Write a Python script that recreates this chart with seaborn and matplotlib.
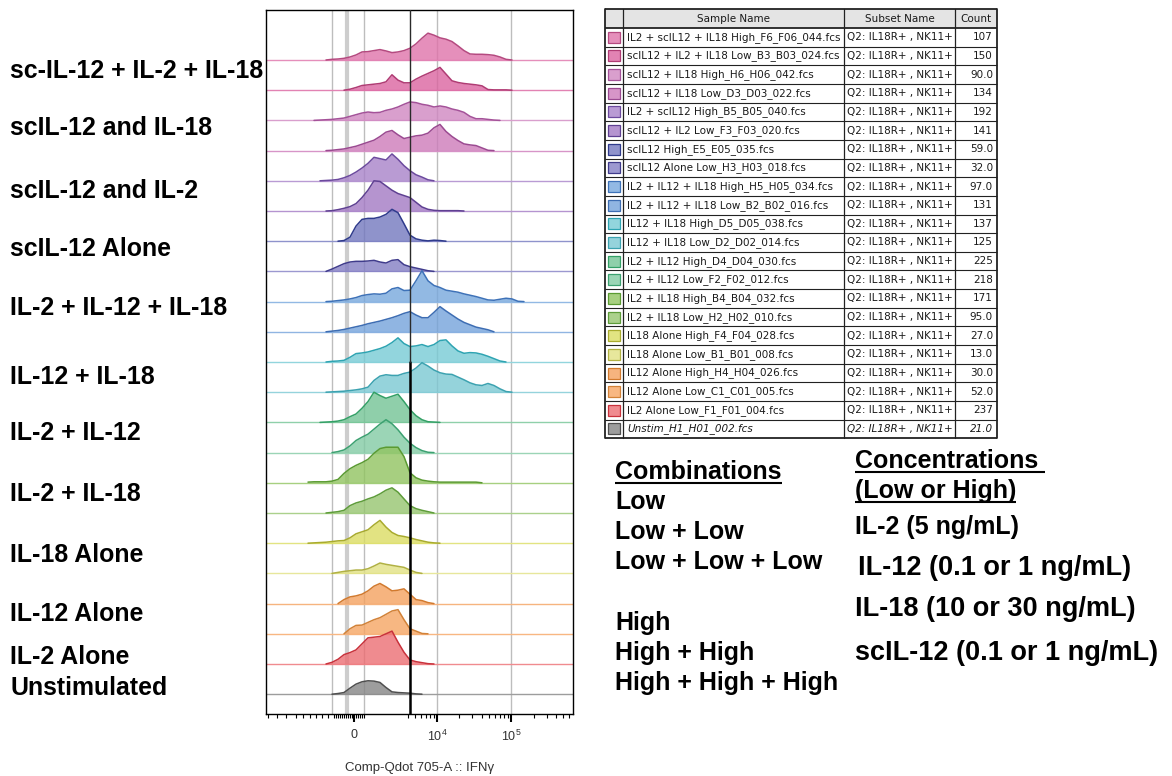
import numpy as np
import pandas as pd
import matplotlib
matplotlib.use("Agg")
import matplotlib.pyplot as plt
import seaborn as sns
from matplotlib.patches import Rectangle
from matplotlib.transforms import Bbox, TransformedBbox
from matplotlib.colors import to_rgb

sns.set_theme(style="white")
plt.rcParams["font.family"] = ["Liberation Sans", "DejaVu Sans"]
plt.rcParams["mathtext.fontset"] = "custom"
plt.rcParams["mathtext.rm"] = "Liberation Sans"
plt.rcParams["mathtext.it"] = "Liberation Sans:italic"
plt.rcParams["mathtext.bf"] = "Liberation Sans:bold"

# ---------------------------------------------------------------- samples
SAMPLES = [
    "IL2 + scIL12 + IL18 High_F6_F06_044.fcs",
    "scIL12 + IL2 + IL18 Low_B3_B03_024.fcs",
    "scIL12 + IL18 High_H6_H06_042.fcs",
    "scIL12 + IL18 Low_D3_D03_022.fcs",
    "IL2 + scIL12 High_B5_B05_040.fcs",
    "scIL12 + IL2 Low_F3_F03_020.fcs",
    "scIL12 High_E5_E05_035.fcs",
    "scIL12 Alone Low_H3_H03_018.fcs",
    "IL2 + IL12 + IL18 High_H5_H05_034.fcs",
    "IL2 + IL12 + IL18 Low_B2_B02_016.fcs",
    "IL12 + IL18 High_D5_D05_038.fcs",
    "IL12 + IL18 Low_D2_D02_014.fcs",
    "IL2 + IL12 High_D4_D04_030.fcs",
    "IL2 + IL12 Low_F2_F02_012.fcs",
    "IL2 + IL18 High_B4_B04_032.fcs",
    "IL2 + IL18 Low_H2_H02_010.fcs",
    "IL18 Alone High_F4_F04_028.fcs",
    "IL18 Alone Low_B1_B01_008.fcs",
    "IL12 Alone High_H4_H04_026.fcs",
    "IL12 Alone Low_C1_C01_005.fcs",
    "IL2 Alone Low_F1_F01_004.fcs",
    "Unstim_H1_H01_002.fcs",
]
SUBSET = "Q2: IL18R+ , NK11+"
COUNTS = ["107", "150", "90.0", "134", "192", "141", "59.0", "32.0", "97.0", "131",
          "137", "125", "225", "218", "171", "95.0", "27.0", "13.0", "30.0", "52.0",
          "237", "21.0"]

FILL_COLORS = ["#e58fbb", "#e283b3", "#d99fcd", "#d795c8", "#b99bd4", "#b594d0",
               "#8f93cc", "#9c98d0", "#92b9e4", "#90b5e2", "#92d5dd", "#95d3dc",
               "#8fd0aa", "#9bd5b6", "#a7d080", "#abd18c", "#e2e482", "#e7e79c",
               "#f6b47f", "#f8b782", "#f08b8f", "#9d9d9d"]
EDGE_COLORS = ["#b54a80", "#b03c74", "#a45299", "#9b4a91", "#6c4a9e", "#5f4092",
               "#2f3b8c", "#403c8c", "#3e72b8", "#3d6db3", "#2ea4b2", "#3ca2b0",
               "#33a066", "#3ca171", "#5b9b32", "#5e9c3a", "#a9ab2e", "#b1b143",
               "#d27a2e", "#d28238", "#c9323c", "#4f4f4f"]

GROUP_LABELS = ["sc-IL-12 + IL-2 + IL-18", "scIL-12 and IL-18", "scIL-12 and IL-2",
                "scIL-12 Alone", "IL-2 + IL-12 + IL-18", "IL-12 + IL-18", "IL-2 + IL-12",
                "IL-2 + IL-18", "IL-18 Alone", "IL-12 Alone", "IL-2 Alone", "Unstimulated"]
GROUP_LABEL_BASELINES = [78, 135, 198, 256, 315, 384, 440, 501, 562, 621, 664, 695]

COMBINATIONS = ["Low", "Low + Low", "Low + Low + Low", "", "High", "High + High",
                "High + High + High"]
CONCENTRATIONS = ["IL-2 (5 ng/mL)", "IL-12 (0.1 or 1 ng/mL)", "IL-18 (10 or 30 ng/mL)",
                  "scIL-12 (0.1 or 1 ng/mL)"]

# events per display bin, 38 bins along the biexponential axis
H01 = [0, 0, 0, 0, 2, 3, 5, 9, 15, 24, 25, 28, 31, 27, 22, 24, 28, 35, 48, 65, 80, 74, 66, 62, 55, 42, 28, 18, 17, 17, 16, 14, 9, 2, 0, 0, 0, 0]
H02 = [0, 0, 0, 0, 0, 0, 0, 3, 8, 14, 16, 18, 20, 25, 46, 30, 22, 22, 33, 42, 50, 58, 68, 48, 28, 23, 20, 18, 16, 13, 2, 1, 1, 1, 0, 0, 0, 0]
H03 = [0, 0, 1, 2, 3, 5, 7, 12, 17, 22, 25, 23, 24, 30, 34, 40, 48, 55, 53, 48, 45, 40, 43, 40, 34, 30, 24, 12, 5, 5, 3, 1, 0, 0, 0, 0, 0, 0]
H04 = [0, 0, 0, 0, 1, 3, 5, 9, 13, 19, 25, 31, 42, 55, 60, 47, 36, 40, 44, 46, 52, 68, 78, 57, 42, 30, 20, 17, 15, 8, 1, 0, 0, 0, 0, 0, 0, 0]
H05 = [0, 0, 0, 1, 2, 4, 9, 16, 26, 38, 52, 70, 66, 62, 80, 64, 45, 30, 18, 11, 3, 0, 0, 0, 0, 0, 0, 0, 0, 0, 0, 0, 0, 0, 0, 0, 0, 0]
H06 = [0, 0, 0, 0, 1, 4, 8, 13, 22, 40, 62, 90, 88, 75, 62, 52, 46, 40, 26, 12, 5, 2, 1, 1, 1, 1, 0, 0, 0, 0, 0, 0, 0, 0, 0, 0, 0, 0]
H07 = [0, 0, 0, 0, 0, 0, 2, 12, 45, 65, 68, 68, 72, 80, 95, 85, 52, 18, 7, 3, 1, 3, 2, 0, 0, 0, 0, 0, 0, 0, 0, 0, 0, 0, 0, 0, 0, 0]
H08 = [0, 0, 0, 0, 7, 15, 23, 28, 30, 30, 31, 33, 28, 25, 33, 35, 20, 14, 10, 6, 2, 0, 0, 0, 0, 0, 0, 0, 0, 0, 0, 0, 0, 0, 0, 0, 0, 0]
H09 = [0, 0, 0, 0, 1, 3, 5, 8, 12, 18, 21, 23, 22, 25, 38, 42, 33, 34, 62, 92, 62, 48, 42, 34, 31, 28, 23, 19, 15, 10, 5, 4, 7, 10, 8, 1, 0, 0]
H10 = [0, 0, 0, 0, 2, 4, 7, 11, 15, 19, 24, 28, 32, 37, 42, 48, 55, 60, 50, 42, 42, 58, 75, 62, 50, 38, 28, 21, 14, 10, 6, 0, 0, 0, 0, 0, 0, 0]
H11 = [0, 0, 0, 0, 2, 3, 5, 14, 25, 27, 30, 35, 40, 47, 58, 72, 55, 46, 48, 52, 46, 52, 64, 66, 48, 33, 26, 28, 27, 23, 17, 10, 3, 0, 0, 0, 0, 0]
H12 = [0, 0, 0, 0, 1, 2, 3, 5, 7, 10, 15, 35, 48, 52, 50, 50, 56, 60, 72, 88, 78, 66, 58, 54, 53, 45, 37, 28, 22, 20, 26, 20, 10, 2, 0, 0, 0, 0]
H13 = [0, 0, 0, 1, 2, 4, 8, 17, 25, 42, 62, 90, 80, 72, 78, 84, 62, 38, 20, 8, 2, 1, 0, 0, 0, 0, 0, 0, 0, 0, 0, 0, 0, 0, 0, 0, 0, 0]
H14 = [0, 0, 0, 0, 0, 3, 8, 20, 36, 46, 55, 70, 85, 98, 86, 68, 46, 28, 15, 6, 1, 0, 0, 0, 0, 0, 0, 0, 0, 0, 0, 0, 0, 0, 0, 0, 0, 0]
H15 = [2, 3, 3, 3, 5, 10, 28, 42, 52, 60, 70, 88, 102, 106, 106, 106, 78, 30, 15, 8, 5, 3, 2, 2, 2, 2, 2, 2, 2, 0, 0, 0, 0, 0, 0, 0, 0, 0]
H16 = [0, 0, 0, 0, 2, 4, 8, 22, 30, 35, 42, 48, 57, 68, 75, 62, 42, 22, 13, 8, 4, 0, 0, 0, 0, 0, 0, 0, 0, 0, 0, 0, 0, 0, 0, 0, 0, 0]
H17 = [0, 1, 2, 3, 5, 7, 8, 16, 28, 34, 40, 55, 68, 48, 32, 23, 20, 16, 11, 7, 3, 1, 0, 0, 0, 0, 0, 0, 0, 0, 0, 0, 0, 0, 0, 0, 0, 0]
H18 = [0, 0, 0, 0, 0, 3, 6, 8, 10, 10, 14, 22, 31, 27, 24, 21, 18, 10, 3, 0, 0, 0, 0, 0, 0, 0, 0, 0, 0, 0, 0, 0, 0, 0, 0, 0, 0, 0]
H19 = [0, 0, 0, 0, 0, 0, 12, 20, 23, 28, 38, 52, 60, 50, 38, 40, 44, 28, 12, 9, 3, 0, 0, 0, 0, 0, 0, 0, 0, 0, 0, 0, 0, 0, 0, 0, 0, 0]
H20 = [0, 0, 0, 0, 0, 0, 0, 15, 25, 26, 34, 42, 48, 58, 68, 72, 42, 15, 8, 1, 0, 0, 0, 0, 0, 0, 0, 0, 0, 0, 0, 0, 0, 0, 0, 0, 0, 0]
H21 = [0, 0, 0, 0, 5, 14, 28, 34, 42, 60, 78, 80, 82, 90, 98, 65, 35, 12, 7, 4, 1, 0, 0, 0, 0, 0, 0, 0, 0, 0, 0, 0, 0, 0, 0, 0, 0, 0]
H22 = [0, 0, 0, 0, 0, 2, 5, 18, 30, 37, 40, 39, 35, 20, 7, 5, 4, 3, 1, 0, 0, 0, 0, 0, 0, 0, 0, 0, 0, 0, 0, 0, 0, 0, 0, 0, 0, 0]
HEIGHTS = [H01, H02, H03, H04, H05, H06, H07, H08, H09, H10, H11, H12,
           H13, H14, H15, H16, H17, H18, H19, H20, H21, H22]

# axis: FlowJo-like arcsinh display of Comp-Qdot 705-A :: IFNg
A0 = 1548.0
X_RANGE = (-11700, 675000)
MAJOR_TICKS = [0, 1e4, 1e5]
MAJOR_LABELS = ["0", "$10^4$", "$10^5$"]
MINOR_TICKS = ([-11000, -8300, -6200, -4500, -3600, -2800, -2300, -1800, -1400]
               + list(range(-1000, 0, 100)) + list(range(100, 600, 100))
               + list(range(4000, 10000, 1000)) + list(range(20000, 100000, 10000))
               + list(range(200000, 700000, 100000)))
GRID_VALUES = [-1135, 490, 1e4, 1e5]
ZERO_BAND = -340
GATE = 4230


def to_display(x):
    return np.arcsinh(np.asarray(x, dtype=float) / A0) / np.log(10)


def from_display(d):
    return A0 * np.sinh(np.asarray(d, dtype=float) * np.log(10))


BIN_CENTERS = from_display(np.linspace(-0.6176, 2.3630, 38))
OFFSET = 90          # vertical spacing between stacked histograms (events)
FILL_ALPHA = 0.8


def deepen(hex_color, alpha):
    """Colour that gives hex_color when laid over white at the given alpha."""
    c = np.array(to_rgb(hex_color))
    return tuple(np.clip(1 - (1 - c) / alpha, 0, 1))


# ---------------------------------------------------------------- data frame
n = len(SAMPLES)
records = []
for i, (name, h) in enumerate(zip(SAMPLES, HEIGHTS)):
    assert len(h) == len(BIN_CENTERS)
    base = (n - 1 - i) * OFFSET
    for x, v in zip(BIN_CENTERS, h):
        records.append({"sample": name, "row": i, "x": x, "count": v,
                        "base": base, "y": base + v})
df = pd.DataFrame(records)

# ---------------------------------------------------------------- figure
W, H = 1172, 776
fig = plt.figure(figsize=(W / 100, H / 100), dpi=100)
canvas = fig.add_axes([0, 0, 1, 1], zorder=0)
canvas.set_xlim(0, W)
canvas.set_ylim(H, 0)
canvas.axis("off")

ax = fig.add_axes([266 / W, 1 - 714 / H, 307 / W, 704 / H], zorder=1)
ax.set_xscale("function", functions=(to_display, from_display))

for v in GRID_VALUES:
    ax.axvline(v, color="#bdbdbd", lw=1.0, zorder=1)
ax.axvline(ZERO_BAND, color="#cdcdcd", lw=3.0, zorder=1)

for i, name in enumerate(SAMPLES):
    sub = df[df["row"] == i].reset_index(drop=True)
    base = sub["base"].iloc[0]
    z = 2 + i * 0.01
    ax.axhline(base, color=FILL_COLORS[i], lw=1.0, zorder=z)
    ax.fill_between(sub["x"], base, sub["y"], color=deepen(FILL_COLORS[i], FILL_ALPHA),
                    alpha=FILL_ALPHA, lw=0, zorder=z + 0.002)
    nz = np.flatnonzero(sub["count"].to_numpy() > 0)
    lo, hi = max(nz[0] - 1, 0), min(nz[-1] + 1, len(sub) - 1)
    sns.lineplot(data=sub.iloc[lo:hi + 1], x="x", y="y", color=EDGE_COLORS[i],
                 lw=1.1, estimator=None, sort=False, ax=ax, zorder=z + 0.004)

ax.axvline(GATE, ymin=0, ymax=0.5, color="black", lw=1.8, zorder=10)
ax.axvline(GATE, ymin=0.5, ymax=1, color="#2a2a2a", lw=1.0, zorder=10)

ax.set_xlim(*X_RANGE)
ax.set_ylim(-59, 2039)
ax.set_yticks([])
ax.set_ylabel("")
ax.set_xticks(MAJOR_TICKS)
ax.set_xticklabels(MAJOR_LABELS)
ax.set_xticks(MINOR_TICKS, minor=True)
ax.tick_params(axis="x", which="major", bottom=True, direction="out", length=5.5,
               width=1.5, color="black", labelsize=9, pad=5, labelcolor="#333333")
ax.tick_params(axis="x", which="minor", bottom=True, direction="out", length=3.2,
               width=0.8, color="black")
ax.set_xlabel("Comp-Qdot 705-A :: IFNγ", fontsize=9.5, color="#333333", labelpad=13)
for s in ax.spines.values():
    s.set_visible(True)
    s.set_color("black")
    s.set_linewidth(1.0)

# ---------------------------------------------------------------- group labels
for label, yb in zip(GROUP_LABELS, GROUP_LABEL_BASELINES):
    canvas.text(10, yb, label, fontsize=17.9, fontweight="bold", color="black",
                va="baseline", ha="left")

# ---------------------------------------------------------------- sample table
TX = [605, 623, 844, 955, 997]
TOP, HDR, RH = 9, 19, 18.65
bottom = TOP + HDR + n * RH
tfont = dict(family="DejaVu Sans", fontsize=7.5, color="#1a1a1a", va="center")

canvas.add_patch(Rectangle((TX[0], TOP), TX[-1] - TX[0], HDR, facecolor="#e4e4e4",
                           edgecolor="none", zorder=1))
for x0, x1, head in zip(TX[:-1], TX[1:], ["", "Sample Name", "Subset Name", "Count"]):
    canvas.text((x0 + x1) / 2, TOP + HDR / 2, head, ha="center", **tfont)

for i, name in enumerate(SAMPLES):
    yc = TOP + HDR + (i + 0.5) * RH
    canvas.add_patch(Rectangle((608, yc - 5.5), 12, 11, facecolor=FILL_COLORS[i],
                               edgecolor=EDGE_COLORS[i], lw=0.9, zorder=2))
    style = "italic" if name.startswith("Unstim") else "normal"
    t = canvas.text(627, yc, name, ha="left", style=style, **tfont)
    t.set_clip_box(TransformedBbox(Bbox([[TX[1], 0], [TX[2] - 1, H]]), canvas.transData))
    t.set_clip_on(True)
    canvas.text(847, yc, SUBSET, ha="left", style=style, **tfont)
    canvas.text(TX[4] - 4, yc, COUNTS[i], ha="right", style=style, **tfont)

for k in range(n + 2):
    y = TOP if k == 0 else TOP + HDR + (k - 1) * RH
    lw = 1.3 if k in (0, 1, n + 1) else 0.8
    canvas.plot([TX[0], TX[-1]], [y, y], color="#222222", lw=lw, zorder=3,
                solid_capstyle="butt")
for k, x in enumerate(TX):
    lw = 1.3 if k in (0, len(TX) - 1) else 0.9
    canvas.plot([x, x], [TOP, bottom], color="#222222", lw=lw, zorder=3)

# ---------------------------------------------------------------- legend notes
big = dict(fontweight="bold", color="black", va="baseline", ha="left")
underlined = []
underlined.append(canvas.text(615, 479, "Combinations", fontsize=18, **big))
for k, s in enumerate(COMBINATIONS):
    canvas.text(615, 509 + k * 30.2, s, fontsize=18, **big)

underlined.append(canvas.text(855, 468, "Concentrations ", fontsize=18, **big))
underlined.append(canvas.text(855, 498, "(Low or High)", fontsize=18, **big))
for s, x, yb, fs in zip(CONCENTRATIONS, [855, 858, 855, 855], [534, 575, 616, 660],
                        [18, 19.5, 19.5, 19.5]):
    canvas.text(x, yb, s, fontsize=fs, **big)

renderer = fig.canvas.get_renderer()
inv = canvas.transData.inverted()
for t in underlined:
    bb = t.get_window_extent(renderer)
    (x0, _), (x1, _) = inv.transform([(bb.x0, bb.y0), (bb.x1, bb.y0)])
    yb = t.get_position()[1] + 3.5
    canvas.plot([x0, x1], [yb, yb], color="black", lw=1.5, solid_capstyle="butt")

fig.savefig("out.png", dpi=100)
